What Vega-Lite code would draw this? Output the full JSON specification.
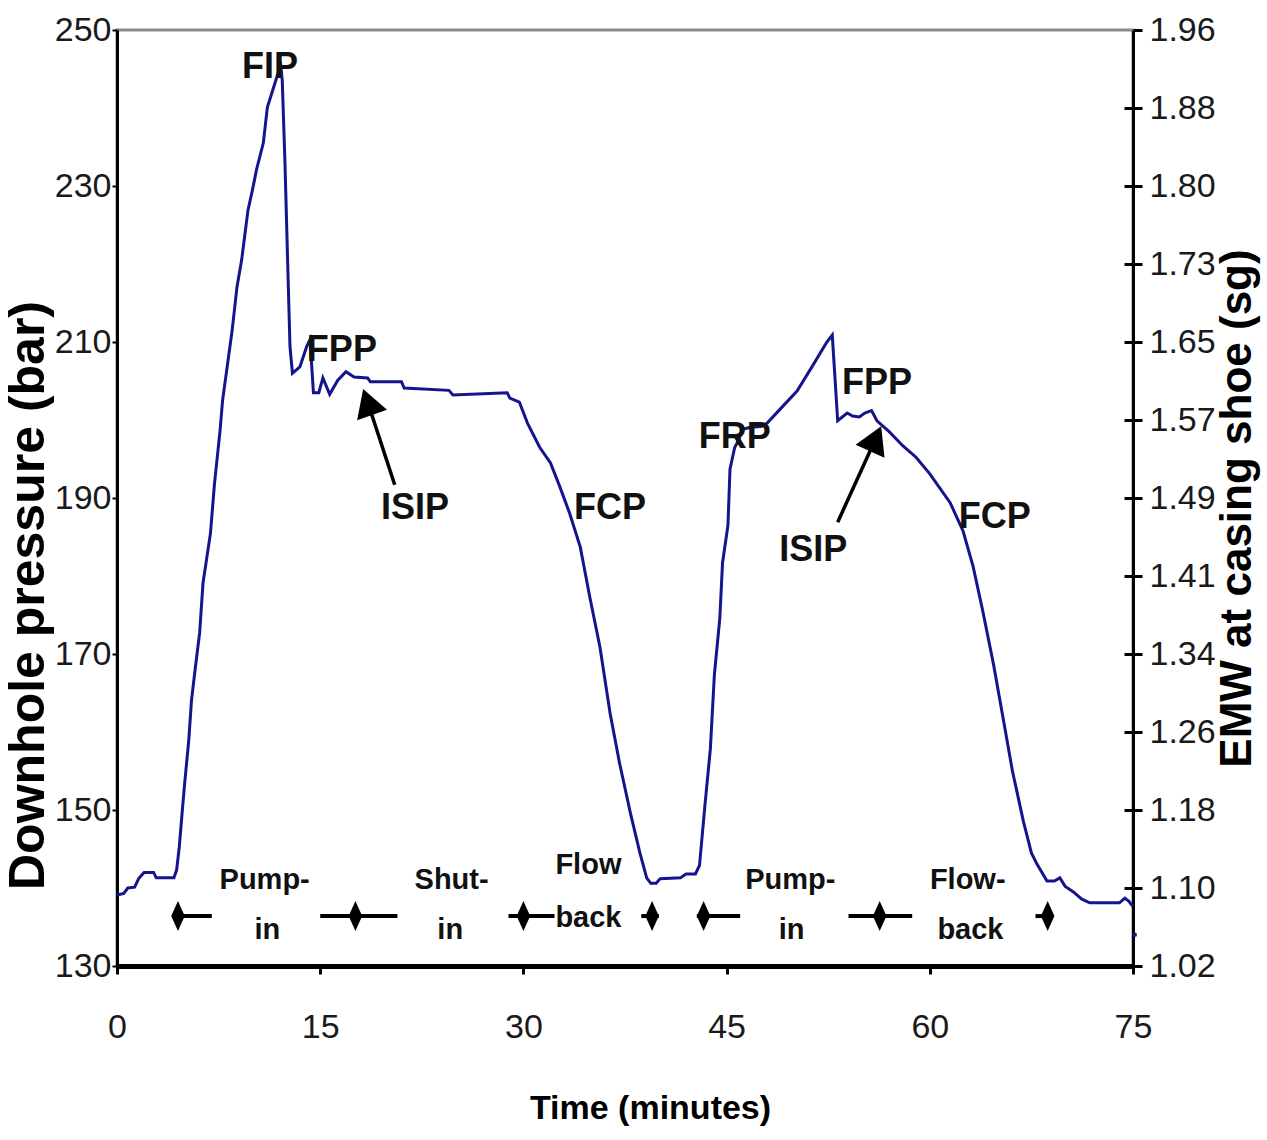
{
  "$schema": "https://vega.github.io/schema/vega-lite/v6.json",
  "width": 1016,
  "height": 936,
  "autosize": {"type": "none"},
  "padding": {"left": 117, "top": 30, "right": 134, "bottom": 174},
  "background": "white",
  "config": {
    "font": "Liberation Sans",
    "view": {"stroke": "#8a8a8a", "strokeWidth": 3},
    "axis": {"grid": false, "domainColor": "#000", "tickColor": "#000", "labelColor": "#1a1a1a", "titleColor": "#000", "labelFont": "Liberation Sans", "titleFont": "Liberation Sans"}
  },
  "datasets": {
    "curve": [
      {"t":0,"p":139.1},{"t":0.5,"p":139.3},{"t":0.8,"p":140.0},{"t":1.3,"p":140.1},{"t":1.6,"p":141.2},{"t":2.0,"p":142.0},{"t":2.7,"p":142.0},{"t":2.9,"p":141.3},{"t":4.2,"p":141.3},{"t":4.4,"p":142.3},{"t":4.6,"p":145.3},{"t":4.8,"p":149.5},{"t":5.0,"p":153.5},{"t":5.3,"p":159.0},{"t":5.5,"p":164.1},{"t":5.8,"p":168.5},{"t":6.1,"p":172.7},{"t":6.35,"p":179.1},{"t":6.6,"p":182.0},{"t":6.9,"p":185.5},{"t":7.2,"p":191.9},{"t":7.6,"p":198.5},{"t":7.8,"p":202.6},{"t":8.1,"p":206.4},{"t":8.5,"p":211.5},{"t":8.86,"p":217.1},{"t":9.2,"p":220.5},{"t":9.67,"p":226.9},{"t":10.0,"p":229.5},{"t":10.3,"p":232.1},{"t":10.8,"p":235.5},{"t":11.1,"p":240.1},{"t":11.5,"p":242.3},{"t":11.9,"p":244.5},{"t":12.1,"p":245.3},{"t":12.2,"p":243.5},{"t":12.4,"p":232.9},{"t":12.6,"p":220.1},{"t":12.77,"p":209.4},{"t":12.95,"p":206.0},{"t":13.5,"p":206.8},{"t":14.0,"p":209.4},{"t":14.25,"p":210.3},{"t":14.5,"p":203.5},{"t":14.9,"p":203.5},{"t":15.2,"p":205.4},{"t":15.7,"p":203.3},{"t":16.3,"p":205.1},{"t":16.9,"p":206.2},{"t":17.5,"p":205.5},{"t":18.5,"p":205.4},{"t":18.7,"p":204.9},{"t":21.0,"p":204.9},{"t":21.2,"p":204.1},{"t":24.5,"p":203.8},{"t":24.8,"p":203.2},{"t":28.8,"p":203.5},{"t":29.0,"p":202.8},{"t":29.7,"p":202.3},{"t":30.3,"p":199.6},{"t":31.2,"p":196.5},{"t":32.0,"p":194.5},{"t":32.7,"p":191.4},{"t":33.4,"p":188.1},{"t":34.2,"p":183.7},{"t":34.9,"p":177.3},{"t":35.65,"p":170.9},{"t":36.4,"p":162.4},{"t":37.1,"p":156.0},{"t":37.9,"p":149.6},{"t":38.6,"p":144.5},{"t":39.1,"p":141.3},{"t":39.4,"p":140.6},{"t":39.8,"p":140.6},{"t":40.1,"p":141.2},{"t":41.6,"p":141.3},{"t":42.0,"p":141.8},{"t":42.7,"p":141.8},{"t":43.0,"p":142.9},{"t":43.4,"p":150.6},{"t":43.8,"p":157.8},{"t":44.1,"p":167.4},{"t":44.5,"p":174.6},{"t":44.7,"p":181.7},{"t":45.1,"p":186.5},{"t":45.25,"p":193.7},{"t":45.6,"p":196.5},{"t":45.8,"p":197.1},{"t":46.2,"p":198.8},{"t":46.6,"p":199.0},{"t":47.6,"p":199.2},{"t":48.0,"p":199.6},{"t":48.9,"p":201.3},{"t":50.2,"p":203.7},{"t":51.4,"p":207.1},{"t":52.4,"p":210.0},{"t":52.8,"p":210.9},{"t":53.2,"p":199.9},{"t":53.9,"p":200.9},{"t":54.3,"p":200.5},{"t":54.8,"p":200.4},{"t":55.2,"p":200.9},{"t":55.7,"p":201.2},{"t":56.1,"p":199.9},{"t":57.0,"p":198.5},{"t":58.0,"p":196.7},{"t":59.0,"p":195.2},{"t":60.0,"p":193.1},{"t":61.5,"p":189.4},{"t":62.45,"p":185.8},{"t":63.2,"p":181.2},{"t":63.9,"p":175.6},{"t":64.7,"p":168.7},{"t":65.4,"p":161.9},{"t":66.1,"p":155.0},{"t":66.9,"p":148.6},{"t":67.5,"p":144.5},{"t":67.9,"p":143.1},{"t":68.65,"p":140.9},{"t":69.2,"p":140.9},{"t":69.6,"p":141.3},{"t":70.0,"p":140.2},{"t":70.6,"p":139.5},{"t":71.2,"p":138.6},{"t":71.8,"p":138.1},{"t":74.0,"p":138.1},{"t":74.4,"p":138.7},{"t":74.7,"p":138.3},{"t":75.0,"p":137.6}
    ],
    "dot": [{"t": 75.13, "p": 134.0}],
    "labels": [
      {"t":11.3,"p":245.3,"label":"FIP"},
      {"t":16.6,"p":209.0,"label":"FPP"},
      {"t":22.0,"p":188.7,"label":"ISIP"},
      {"t":36.4,"p":188.7,"label":"FCP"},
      {"t":45.6,"p":197.8,"label":"FRP"},
      {"t":56.1,"p":204.7,"label":"FPP"},
      {"t":51.4,"p":183.3,"label":"ISIP"},
      {"t":64.8,"p":187.6,"label":"FCP"}
    ],
    "phases": [
      {"t":10.9,"p":141.0,"label":"Pump-"},
      {"t":11.1,"p":134.6,"label":"in"},
      {"t":24.7,"p":141.0,"label":"Shut-"},
      {"t":24.6,"p":134.6,"label":"in"},
      {"t":34.8,"p":143.0,"label":"Flow"},
      {"t":34.8,"p":136.2,"label":"back"},
      {"t":49.7,"p":141.0,"label":"Pump-"},
      {"t":49.8,"p":134.6,"label":"in"},
      {"t":62.8,"p":141.0,"label":"Flow-"},
      {"t":63.0,"p":134.6,"label":"back"}
    ],
    "segs": [
      {"t":4.6,"t2":7.0,"p":136.4},
      {"t":15.0,"t2":20.7,"p":136.4},
      {"t":28.9,"t2":32.3,"p":136.4},
      {"t":38.7,"t2":40.0,"p":136.4},
      {"t":42.8,"t2":46.0,"p":136.4},
      {"t":54.0,"t2":58.7,"p":136.4},
      {"t":67.8,"t2":68.9,"p":136.4}
    ],
    "diamonds": [
      {"t":4.5,"p":136.4},{"t":17.6,"p":136.4},{"t":30.0,"p":136.4},{"t":39.5,"p":136.4},{"t":43.3,"p":136.4},{"t":56.3,"p":136.4},{"t":68.7,"p":136.4}
    ],
    "arrows": [
      {"t":20.5,"p":191.7,"t2":18.5,"p2":202.3},
      {"t":53.2,"p":186.9,"t2":56.0,"p2":197.6}
    ],
    "head1": [{"t":18.5,"p":202.3}],
    "head2": [{"t":56.0,"p":197.6}]
  },
  "encoding": {
    "x": {"field": "t", "type": "quantitative", "scale": {"domain": [0, 75], "nice": false, "zero": false},
      "axis": {"orient": "bottom", "values": [0, 15, 30, 45, 60, 75], "title": "Time (minutes)", "labelFlush": false, "domainWidth": 5, "tickWidth": 3, "tickSize": 8, "labelFontSize": 34, "labelPadding": 36, "titleFontSize": 34, "titleFontWeight": "bold", "titleX": 533, "titleY": 142, "titleBaseline": "middle", "titleAlign": "center"}}
  },
  "layer": [
    {
      "data": {"name": "curve"},
      "mark": {"type": "line", "color": "#14148c", "strokeWidth": 3},
      "encoding": {
        "y": {"field": "p", "type": "quantitative", "scale": {"domain": [130, 250], "nice": false, "zero": false},
          "axis": {"orient": "left", "values": [130, 150, 170, 190, 210, 230, 250], "title": "Downhole pressure (bar)", "domainWidth": 3, "tickWidth": 2, "tickSize": 5, "labelPadding": 1, "labelFontSize": 34, "titleFontSize": 50, "titleFontWeight": "bold", "titleAngle": -90, "titleX": -89, "titleY": 565, "titleBaseline": "middle", "titleAlign": "center"}},
        "order": {"field": "t", "type": "quantitative"}
      }
    },
    {
      "data": {"name": "dot"},
      "mark": {"type": "point", "filled": true, "color": "#14148c", "size": 20, "opacity": 1},
      "encoding": {
        "y": {"field": "p", "type": "quantitative", "scale": {"domain": [130, 250], "nice": false, "zero": false},
          "axis": {"orient": "right", "values": [130, 140, 150, 160, 170, 180, 190, 200, 210, 220, 230, 240, 250], "labelExpr": "['1.02','1.10','1.18','1.26','1.34','1.41','1.49','1.57','1.65','1.73','1.80','1.88','1.96'][round((datum.value-130)/10)]", "title": "EMW at casing shoe (sg)", "domainWidth": 3, "tickWidth": 3, "tickSize": 9, "labelPadding": 7, "labelFontSize": 34, "titleFontSize": 44, "titleFontWeight": "bold", "titleAngle": -90, "titleX": 104, "titleY": 478, "titleBaseline": "middle", "titleAlign": "center"}}
      }
    },
    {
      "data": {"name": "segs"},
      "mark": {"type": "rule", "color": "#000", "strokeWidth": 4},
      "encoding": {
        "x2": {"field": "t2"},
        "y": {"field": "p", "type": "quantitative", "scale": {"domain": [130, 250], "nice": false, "zero": false},
          "axis": {"orient": "right", "values": [140, 150, 160, 170, 180, 190, 200, 210, 220, 230, 240], "labels": false, "domain": false, "title": null, "tickWidth": 3, "tickSize": -9}}
      }
    },
    {
      "data": {"name": "diamonds"},
      "mark": {"type": "point", "filled": true, "color": "#000", "opacity": 1, "shape": "M0,-1L0.45,0L0,1L-0.45,0Z", "size": 900},
      "encoding": {
        "y": {"field": "p", "type": "quantitative", "scale": {"domain": [130, 250], "nice": false, "zero": false}, "axis": null}
      }
    },
    {
      "data": {"name": "arrows"},
      "mark": {"type": "rule", "color": "#000", "strokeWidth": 3.5},
      "encoding": {
        "x2": {"field": "t2"},
        "y": {"field": "p", "type": "quantitative", "scale": {"domain": [130, 250], "nice": false, "zero": false}, "axis": null},
        "y2": {"field": "p2"}
      }
    },
    {
      "data": {"name": "head1"},
      "mark": {"type": "point", "filled": true, "color": "#000", "opacity": 1, "shape": "triangle-up", "size": 1000, "angle": 341},
      "encoding": {
        "y": {"field": "p", "type": "quantitative", "scale": {"domain": [130, 250], "nice": false, "zero": false}, "axis": null}
      }
    },
    {
      "data": {"name": "head2"},
      "mark": {"type": "point", "filled": true, "color": "#000", "opacity": 1, "shape": "triangle-up", "size": 1000, "angle": 24},
      "encoding": {
        "y": {"field": "p", "type": "quantitative", "scale": {"domain": [130, 250], "nice": false, "zero": false}, "axis": null}
      }
    },
    {
      "data": {"name": "labels"},
      "mark": {"type": "text", "font": "Liberation Sans", "fontWeight": "bold", "fontSize": 36, "color": "#111", "align": "center", "baseline": "middle"},
      "encoding": {
        "y": {"field": "p", "type": "quantitative", "scale": {"domain": [130, 250], "nice": false, "zero": false}, "axis": null},
        "text": {"field": "label"}
      }
    },
    {
      "data": {"name": "phases"},
      "mark": {"type": "text", "font": "Liberation Sans", "fontWeight": "bold", "fontSize": 29, "color": "#111", "align": "center", "baseline": "middle"},
      "encoding": {
        "y": {"field": "p", "type": "quantitative", "scale": {"domain": [130, 250], "nice": false, "zero": false}, "axis": null},
        "text": {"field": "label"}
      }
    }
  ],
  "resolve": {"scale": {"y": "independent"}}
}
